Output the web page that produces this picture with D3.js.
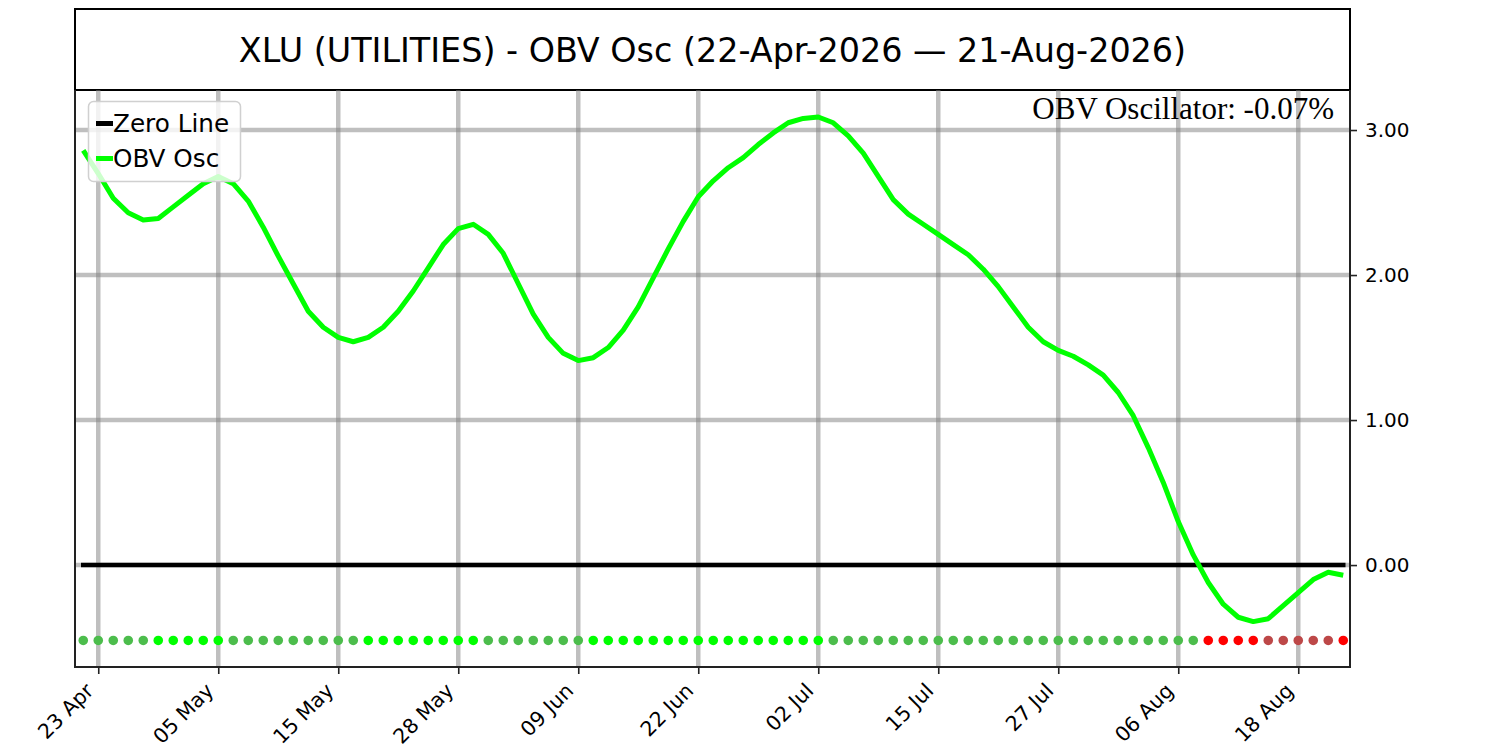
<!DOCTYPE html>
<html>
<head>
<meta charset="utf-8">
<script src="https://cdn.jsdelivr.net/npm/d3@7"></script>
<style>
  html, body { margin: 0; padding: 0; background: #fff; }
  svg { display: block; }
</style>
</head>
<body>
<svg id="chart" width="1500" height="750"></svg>
<script>
// ---------------- DATA ----------------
const dates = [
  "2026-04-22","2026-04-23","2026-04-24","2026-04-27","2026-04-28","2026-04-29","2026-04-30","2026-05-01",
  "2026-05-04","2026-05-05","2026-05-06","2026-05-07","2026-05-08","2026-05-11","2026-05-12","2026-05-13",
  "2026-05-14","2026-05-15","2026-05-18","2026-05-19","2026-05-20","2026-05-21","2026-05-22","2026-05-26",
  "2026-05-27","2026-05-28","2026-05-29","2026-06-01","2026-06-02","2026-06-03","2026-06-04","2026-06-05",
  "2026-06-08","2026-06-09","2026-06-10","2026-06-11","2026-06-12","2026-06-15","2026-06-16","2026-06-17",
  "2026-06-18","2026-06-22","2026-06-23","2026-06-24","2026-06-25","2026-06-26","2026-06-29","2026-06-30",
  "2026-07-01","2026-07-02","2026-07-06","2026-07-07","2026-07-08","2026-07-09","2026-07-10","2026-07-13",
  "2026-07-14","2026-07-15","2026-07-16","2026-07-17","2026-07-20","2026-07-21","2026-07-22","2026-07-23",
  "2026-07-24","2026-07-27","2026-07-28","2026-07-29","2026-07-30","2026-07-31","2026-08-03","2026-08-04",
  "2026-08-05","2026-08-06","2026-08-07","2026-08-10","2026-08-11","2026-08-12","2026-08-13","2026-08-14",
  "2026-08-17","2026-08-18","2026-08-19","2026-08-20","2026-08-21"
];
const obvOsc = [
  2.86, 2.70, 2.53, 2.43, 2.38, 2.39, 2.47, 2.55, 2.63, 2.68,
  2.63, 2.51, 2.33, 2.13, 1.94, 1.75, 1.64, 1.57, 1.54, 1.57,
  1.64, 1.75, 1.89, 2.05, 2.21, 2.32, 2.35, 2.28, 2.15, 1.94,
  1.73, 1.57, 1.46, 1.41, 1.43, 1.50, 1.62, 1.78, 1.98, 2.18,
  2.37, 2.54, 2.65, 2.74, 2.81, 2.90, 2.98, 3.05, 3.08, 3.09,
  3.05, 2.96, 2.84, 2.68, 2.52, 2.42, 2.35, 2.28, 2.21, 2.14,
  2.04, 1.92, 1.78, 1.64, 1.54, 1.48, 1.44, 1.38, 1.31, 1.19,
  1.03, 0.81, 0.57, 0.30, 0.07, -0.12, -0.27, -0.36, -0.39, -0.37,
  -0.28, -0.19, -0.10, -0.05, -0.07
];
const tickDates  = ["2026-04-23","2026-05-05","2026-05-15","2026-05-28","2026-06-09","2026-06-22",
                    "2026-07-02","2026-07-15","2026-07-27","2026-08-06","2026-08-18"];
const tickLabels = ["23 Apr","05 May","15 May","28 May","09 Jun","22 Jun","02 Jul","15 Jul","27 Jul","06 Aug","18 Aug"];
const yTicks = [0, 1, 2, 3];
const signalLevel = -0.52;   // value at which the signal dots sit
const titleText = "XLU (UTILITIES) - OBV Osc (22-Apr-2026 \u2014 21-Aug-2026)";
const lastLabel = "OBV Oscillator: -0.07%";
const legendLabels = ["Zero Line", "OBV Osc"];

// ---------------- LAYOUT ----------------
const svg = d3.select("#chart");
const L = 75, R = 1350, T = 90, B = 667;
const x = d3.scaleLinear().domain([-0.55, 84.45]).range([L, R]);
const y = d3.scaleLinear().domain([-0.703, 3.276]).range([B, T]);
const sans = "'DejaVu Sans', sans-serif";
const serif = "'Liberation Serif', 'Times New Roman', serif";

// title box
svg.append("rect").attr("x", L).attr("y", 9).attr("width", R - L).attr("height", T - 9)
  .attr("fill", "#fff").attr("stroke", "#000").attr("stroke-width", 2);
svg.append("text").attr("x", (L + R) / 2).attr("y", 62).attr("text-anchor", "middle")
  .attr("font-family", sans).attr("font-size", 33.4).attr("fill", "#000").text(titleText);

const plot = svg.append("g");
const clip = svg.append("clipPath").attr("id", "pc");
clip.append("rect").attr("x", L).attr("y", T).attr("width", R - L).attr("height", B - T);

const dateIdx = new Map(dates.map((d, i) => [d, i]));
const tickIdx = tickDates.map(d => dateIdx.get(d));

// grid
const grid = plot.append("g").attr("clip-path", "url(#pc)");
grid.selectAll("line.v").data(tickIdx).join("line")
  .attr("x1", d => x(d)).attr("x2", d => x(d)).attr("y1", T).attr("y2", B)
  .attr("stroke", "#808080").attr("stroke-opacity", 0.5).attr("stroke-width", 4.5);
grid.selectAll("line.h").data(yTicks).join("line")
  .attr("x1", L).attr("x2", R).attr("y1", d => y(d)).attr("y2", d => y(d))
  .attr("stroke", "#808080").attr("stroke-opacity", 0.5).attr("stroke-width", 4.5);

// zero line
plot.append("line").attr("x1", x(0)).attr("x2", x(dates.length - 1))
  .attr("y1", y(0)).attr("y2", y(0)).attr("stroke", "#000").attr("stroke-width", 4.5)
  .attr("stroke-linecap", "square");

// signal dots
function dotColor(i) {
  const v = obvOsc[i];
  const rising = i === 0 ? obvOsc[1] > obvOsc[0] : v > obvOsc[i - 1];
  if (v >= 0) return rising ? "#00ff00" : "#4cbd4c";
  return rising ? "#bd4848" : "#ff0000";
}
plot.append("g").selectAll("circle").data(obvOsc).join("circle")
  .attr("cx", (d, i) => x(i)).attr("cy", y(signalLevel)).attr("r", 4.8)
  .attr("fill", (d, i) => dotColor(i));

// OBV line
plot.append("path").datum(obvOsc)
  .attr("d", d3.line().x((d, i) => x(i)).y(d => y(d)))
  .attr("fill", "none").attr("stroke", "#00ff00").attr("stroke-width", 5)
  .attr("stroke-linejoin", "round");

// spines
const spine = "#222";
svg.append("line").attr("x1", L).attr("x2", L).attr("y1", T).attr("y2", B).attr("stroke", spine).attr("stroke-width", 2);
svg.append("line").attr("x1", R).attr("x2", R).attr("y1", T).attr("y2", B).attr("stroke", spine).attr("stroke-width", 2);
svg.append("line").attr("x1", L - 1).attr("x2", R + 1).attr("y1", B).attr("y2", B).attr("stroke", spine).attr("stroke-width", 2);

// x axis
const xAxis = svg.append("g").attr("transform", `translate(0,${B})`)
  .call(d3.axisBottom(x).tickValues(tickIdx).tickFormat((d, i) => tickLabels[i]).tickSize(7).tickPadding(0));
xAxis.select(".domain").remove();
xAxis.selectAll(".tick line").attr("stroke", spine).attr("stroke-width", 1.6);
xAxis.selectAll(".tick text")
  .attr("font-family", sans).attr("font-size", 20.5).attr("fill", "#000")
  .attr("text-anchor", "end").attr("y", 0).attr("dy", 0)
  .attr("transform", "translate(-4,25) rotate(-45)");

// right y axis
const yAxis = svg.append("g").attr("transform", `translate(${R},0)`)
  .call(d3.axisRight(y).tickValues(yTicks).tickFormat(d3.format(".2f")).tickSize(7).tickPadding(8));
yAxis.select(".domain").remove();
yAxis.selectAll(".tick line").attr("stroke", spine).attr("stroke-width", 1.6);
yAxis.selectAll(".tick text").attr("font-family", sans).attr("font-size", 20).attr("fill", "#000");

// last value annotation
svg.append("text").attr("x", 1334).attr("y", 119).attr("text-anchor", "end")
  .attr("font-family", serif).attr("font-size", 31).attr("fill", "#000").text(lastLabel);

// legend
const lg = svg.append("g");
lg.append("rect").attr("x", 88.5).attr("y", 101.5).attr("width", 152).attr("height", 80)
  .attr("rx", 5).attr("fill", "#fff").attr("fill-opacity", 0.8)
  .attr("stroke", "#d0d0d0").attr("stroke-width", 1.5);
const legendColors = ["#000", "#00ff00"];
legendLabels.forEach((lab, i) => {
  const cy = 123.5 + i * 35;
  lg.append("line").attr("x1", 96).attr("x2", 113).attr("y1", cy).attr("y2", cy)
    .attr("stroke", legendColors[i]).attr("stroke-width", 5);
  lg.append("text").attr("x", 113).attr("y", cy + 8.5).attr("font-family", sans)
    .attr("font-size", 24.7).attr("fill", "#000").text(lab);
});
</script>
</body>
</html>
